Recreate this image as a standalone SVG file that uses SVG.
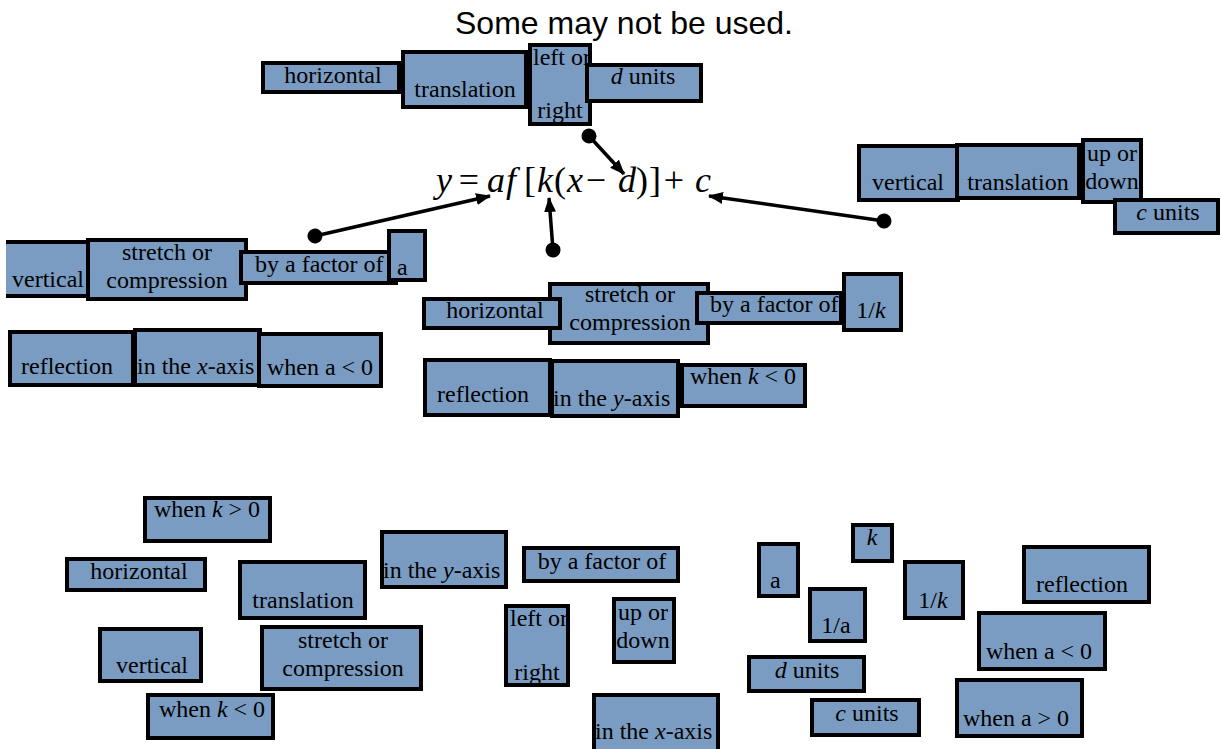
<svg xmlns="http://www.w3.org/2000/svg" width="1221" height="749" viewBox="0 0 1221 749">
<style>
.box{fill:#7b9cc2;stroke:#000;stroke-width:4}
.t{font-family:"Liberation Serif","Times New Roman",serif;font-size:24px;fill:#000}
.m{text-anchor:middle}
.i{font-style:italic}
.eq{font-family:"Liberation Serif","Times New Roman",serif;font-size:36px;fill:#000;text-anchor:middle}
.title{font-family:"Liberation Sans",Arial,sans-serif;font-size:32px;fill:#000;text-anchor:middle}
.con{stroke:#000;stroke-width:3.5;fill:none;marker-start:url(#dot);marker-end:url(#arr)}
</style>
<defs>
<marker id="arr" markerUnits="userSpaceOnUse" markerWidth="16" markerHeight="12" refX="14" refY="6" orient="auto"><path d="M0,0 L15,6 L0,12 z" fill="#000"/></marker>
<marker id="dot" markerUnits="userSpaceOnUse" markerWidth="16" markerHeight="16" refX="8" refY="8" orient="auto"><circle cx="8" cy="8" r="7.5" fill="#000"/></marker>
</defs>
<rect width="1221" height="749" fill="#fff"/>
<text class="title" x="624" y="34">Some may not be used.</text>

<g id="equation">
<text class="eq" y="192"><tspan x="444" class="i">y</tspan><tspan x="469">=</tspan><tspan x="496" class="i">a</tspan><tspan x="511" class="i">f</tspan><tspan x="530">[</tspan><tspan x="545" class="i">k</tspan><tspan x="560">(</tspan><tspan x="575" class="i">x</tspan><tspan x="596">−</tspan><tspan x="627" class="i">d</tspan><tspan x="642">)</tspan><tspan x="655">]</tspan><tspan x="674">+</tspan><tspan x="703" class="i">c</tspan></text>
</g>

<!-- top row -->
<g id="top-horizontal"><rect class="box" x="263" y="63" width="136" height="29"/><text class="t m" x="333" y="83">horizontal</text></g>
<g id="top-translation"><rect class="box" x="403" y="52" width="123" height="55"/><text class="t m" x="465" y="97">translation</text></g>
<g id="top-leftright"><rect class="box" x="530" y="45" width="60" height="79"/><text class="t" x="533" y="65">left or</text><text class="t m" x="560" y="118">right</text></g>
<g id="top-dunits"><rect class="box" x="587" y="65" width="114" height="36"/><text class="t m" x="643" y="84"><tspan class="i">d</tspan> units</text></g>

<!-- right group -->
<g id="r-vertical"><rect class="box" x="859" y="146" width="99" height="54"/><text class="t m" x="908" y="190">vertical</text></g>
<g id="r-translation"><rect class="box" x="957" y="145" width="122" height="53"/><text class="t m" x="1018" y="190">translation</text></g>
<g id="r-updown"><rect class="box" x="1083" y="140" width="58" height="62"/><text class="t m" x="1112" y="161">up or</text><text class="t m" x="1112" y="189">down</text></g>
<g id="r-cunits"><rect class="box" x="1115" y="200" width="103" height="33"/><text class="t m" x="1168" y="220"><tspan class="i">c</tspan> units</text></g>

<!-- left group -->
<g id="l-vertical"><rect x="6" y="242" width="90" height="54" fill="#7b9cc2"/><path d="M6,242 H96 V296 H6" fill="none" stroke="#000" stroke-width="4"/><text class="t m" x="48" y="287">vertical</text></g>
<g id="l-stretch"><rect class="box" x="88" y="240" width="158" height="59"/><text class="t m" x="167" y="260">stretch or</text><text class="t m" x="167" y="288">compression</text></g>
<g id="l-factor"><rect class="box" x="241" y="252" width="155" height="31"/><text class="t" x="255" y="272">by a factor of</text></g>
<g id="l-a"><rect class="box" x="389" y="231" width="36" height="49"/><text class="t" x="397" y="275">a</text></g>

<g id="l-reflection"><rect class="box" x="10" y="332" width="123" height="53"/><text class="t m" x="67" y="374">reflection</text></g>
<g id="l-xaxis"><rect class="box" x="135" y="330" width="125" height="55"/><text class="t" x="137" y="374">in the <tspan class="i">x</tspan>-axis</text></g>
<g id="l-whenaneg"><rect class="box" x="259" y="334" width="122" height="52"/><text class="t m" x="320" y="375">when a &lt; 0</text></g>

<!-- center group -->
<g id="c-stretch"><rect class="box" x="550" y="284" width="158" height="59"/><text class="t m" x="630" y="302">stretch or</text><text class="t m" x="630" y="330">compression</text></g>
<g id="c-horizontal"><rect class="box" x="424" y="299" width="136" height="29"/><text class="t m" x="495" y="318">horizontal</text></g>
<g id="c-factor"><rect class="box" x="697" y="293" width="144" height="30"/><text class="t" x="710" y="312">by a factor of</text></g>
<g id="c-1k"><rect class="box" x="844" y="274" width="57" height="56"/><text class="t m" x="871" y="318">1/<tspan class="i">k</tspan></text></g>

<g id="c-reflection"><rect class="box" x="425" y="360" width="125" height="55"/><text class="t m" x="483" y="402">reflection</text></g>
<g id="c-yaxis"><rect class="box" x="552" y="361" width="126" height="55"/><text class="t" x="553" y="406">in the <tspan class="i">y</tspan>-axis</text></g>
<g id="c-whenkneg"><rect class="box" x="682" y="365" width="123" height="41"/><text class="t m" x="743" y="384">when <tspan class="i">k</tspan> &lt; 0</text></g>

<!-- bottom pool -->
<g id="b-whenkpos"><rect class="box" x="145" y="498" width="125" height="43"/><text class="t m" x="207" y="517">when <tspan class="i">k</tspan> &gt; 0</text></g>
<g id="b-horizontal"><rect class="box" x="67" y="559" width="138" height="31"/><text class="t m" x="139" y="579">horizontal</text></g>
<g id="b-translation"><rect class="box" x="240" y="562" width="125" height="56"/><text class="t m" x="303" y="608">translation</text></g>
<g id="b-yaxis"><rect class="box" x="382" y="532" width="124" height="55"/><text class="t" x="383" y="578">in the <tspan class="i">y</tspan>-axis</text></g>
<g id="b-factor"><rect class="box" x="524" y="548" width="154" height="33"/><text class="t m" x="602" y="569">by a factor of</text></g>
<g id="b-vertical"><rect class="box" x="100" y="629" width="101" height="52"/><text class="t m" x="152" y="673">vertical</text></g>
<g id="b-stretch"><rect class="box" x="262" y="627" width="159" height="62"/><text class="t m" x="343" y="648">stretch or</text><text class="t m" x="343" y="676">compression</text></g>
<g id="b-whenkneg"><rect class="box" x="148" y="695" width="125" height="43"/><text class="t m" x="212" y="717">when <tspan class="i">k</tspan> &lt; 0</text></g>
<g id="b-leftright"><rect class="box" x="506" y="606" width="62" height="79"/><text class="t" x="510" y="626">left or</text><text class="t m" x="537" y="680">right</text></g>
<g id="b-updown"><rect class="box" x="614" y="599" width="60" height="63"/><text class="t m" x="643" y="620">up or</text><text class="t m" x="643" y="648">down</text></g>
<g id="b-xaxis"><rect class="box" x="594" y="695" width="124" height="58"/><text class="t" x="595" y="739">in the <tspan class="i">x</tspan>-axis</text></g>
<g id="b-a"><rect class="box" x="759" y="544" width="39" height="52"/><text class="t" x="770" y="588">a</text></g>
<g id="b-k"><rect class="box" x="853" y="525" width="39" height="36"/><text class="t m i" x="872" y="545">k</text></g>
<g id="b-1a"><rect class="box" x="810" y="589" width="55" height="52"/><text class="t m" x="836" y="633">1/a</text></g>
<g id="b-1k"><rect class="box" x="905" y="562" width="58" height="56"/><text class="t m" x="933" y="608">1/<tspan class="i">k</tspan></text></g>
<g id="b-dunits"><rect class="box" x="749" y="657" width="115" height="34"/><text class="t m" x="807" y="678"><tspan class="i">d</tspan> units</text></g>
<g id="b-cunits"><rect class="box" x="812" y="700" width="107" height="35"/><text class="t m" x="867" y="721"><tspan class="i">c</tspan> units</text></g>
<g id="b-reflection"><rect class="box" x="1024" y="547" width="125" height="55"/><text class="t m" x="1082" y="592">reflection</text></g>
<g id="b-whenaneg"><rect class="box" x="979" y="613" width="126" height="56"/><text class="t m" x="1039" y="659">when a &lt; 0</text></g>
<g id="b-whenapos"><rect class="box" x="957" y="680" width="125" height="56"/><text class="t m" x="1016" y="726">when a &gt; 0</text></g>

<g id="connectors">
<line class="con" x1="589" y1="136" x2="624" y2="174"/>
<line class="con" x1="315" y1="236" x2="490" y2="196"/>
<line class="con" x1="553" y1="250" x2="549" y2="198"/>
<line class="con" x1="884" y1="221" x2="709" y2="196"/>
</g>
</svg>
